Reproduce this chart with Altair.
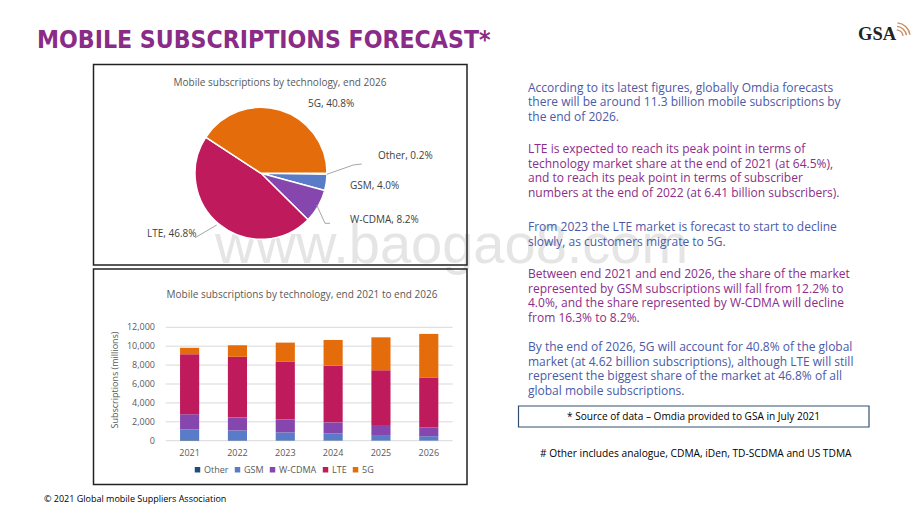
import math
import altair as alt
import pandas as pd

# ---------------- data ----------------
years = ["2021", "2022", "2023", "2024", "2025", "2026"]
techs = ["Other", "GSM", "W-CDMA", "LTE", "5G"]
other = [60, 50, 40, 35, 30, 23]
gsm = [1140, 1040, 840, 745, 570, 452]
wcdma = [1600, 1380, 1380, 1160, 1060, 927]
lte = [6350, 6410, 6110, 6000, 5790, 5290]
fiveg = [680, 1220, 2010, 2720, 3490, 4610]
pie_share = [0.2, 4.0, 8.2, 46.8, 40.8]
tick_values = [0, 2000, 4000, 6000, 8000, 10000, 12000]
tick_labels = ["0", "2,000", "4,000", "6,000", "8,000", "10,000", "12,000"]
colors = ["#1F4E79", "#5A7BC8", "#8547AD", "#BE1A5C", "#E46C0A"]

series = {"Other": other, "GSM": gsm, "W-CDMA": wcdma, "LTE": lte, "5G": fiveg}
rows = []
for ti, t in enumerate(techs):
    for yi, y in enumerate(years):
        rows.append({"year": y, "tech": t, "value": series[t][yi], "ord": ti})
bars_df = pd.DataFrame(rows)
pie_df = pd.DataFrame({"tech": techs, "share": pie_share, "ord": list(range(len(techs)))})
ticks_df = pd.DataFrame({"v": tick_values, "label": tick_labels})
years_df = pd.DataFrame({"year": years})

FONT = "Open Sans"
GREY = "#595959"
BLUE_TXT = "#4A5AA8"
PURPLE_TXT = "#8B2D8A"

xscale = alt.Scale(domain=years, range=[157.7, 444.7], paddingInner=0.6, paddingOuter=0.3)
yscale = alt.Scale(domain=[0, 12000], range=[432.7, 319.3], nice=False, zero=True)
cscale = alt.Scale(domain=techs, range=colors)
legend = alt.Legend(orient="none", legendX=185, legendY=457, direction="horizontal", columns=5,
                    title=None, symbolType="square", symbolSize=30, labelFontSize=9,
                    labelColor=GREY, labelFont=FONT, columnPadding=4, labelOffset=2, padding=0,
                    symbolStrokeWidth=0)

one = alt.Data(values=[{"a": 1}])


def text(x, y, lines, **kw):
    props = dict(align="left", baseline="alphabetic", font=FONT, fontSize=12, color="black")
    props.update(kw)
    return alt.Chart(one).mark_text(text=lines, **props).encode(x=alt.value(x), y=alt.value(y))


def box(x, y, x2, y2, stroke="#222222", sw=1.5):
    return alt.Chart(one).mark_rect(fill="transparent", stroke=stroke, strokeWidth=sw).encode(
        x=alt.value(x), y=alt.value(y), x2=alt.value(x2), y2=alt.value(y2))


layers = []

# watermark
layers.append(text(207, 255, "www.baogao8.com", font="Liberation Sans", fontSize=56,
                   color="#d0d0d0", opacity=0.55))

# main title
layers.append(text(29, 40, "MOBILE SUBSCRIPTIONS FORECAST*", font="DejaVu Sans Condensed",
                   fontSize=24.6, fontWeight="bold", color="#8A2B87"))
# logo
layers.append(text(850, 32, "GSA", font="Liberation Serif", fontSize=18.5, fontWeight="bold",
                   color="#222222"))
for r in [6.5, 10, 13.5]:
    layers.append(alt.Chart(one).mark_arc(radius=r, radius2=r + 1.4, theta=0.1, theta2=1.4,
                                          color="#C98B5E").encode(x=alt.value(888), y=alt.value(29)))

# panel boxes
layers.append(box(85.5, 56.5, 459, 257))
layers.append(box(85.5, 261, 459, 476.5))
layers.append(box(510.5, 398, 861, 419, stroke="#33506E", sw=1.2))

# pie chart
layers.append(text(272, 77.5, "Mobile subscriptions by technology, end 2026", align="center",
                   fontSize=10, color=GREY))
pie = alt.Chart(pie_df).mark_arc(radius=66, stroke="white", strokeWidth=1.5).encode(
    theta=alt.Theta("share:Q", stack=True,
                    scale=alt.Scale(range=[math.pi / 2, math.pi / 2 + 2 * math.pi])),
    color=alt.Color("tech:N", scale=cscale, legend=legend),
    order=alt.Order("ord:Q"),
    x=alt.value(253), y=alt.value(165.3),
)
layers.append(pie)
pie_lbl = dict(fontSize=10, color="#404040")
layers.append(text(300, 98.5, "5G, 40.8%", **pie_lbl))
layers.append(text(370, 151, "Other, 0.2%", **pie_lbl))
layers.append(text(342, 180.5, "GSM, 4.0%", **pie_lbl))
layers.append(text(342, 214.5, "W-CDMA, 8.2%", **pie_lbl))
layers.append(text(139, 228.5, "LTE, 46.8%", **pie_lbl))
lead = dict(color="#A6A6A6", strokeWidth=1)
for (a, b, c, d) in [(318.7, 166.3, 345.3, 157), (345.3, 157, 353.7, 156),
                     (308.7, 197, 317, 215.3), (317, 215.3, 322, 215.3),
                     (208.7, 217, 187, 229.7)]:
    layers.append(alt.Chart(one).mark_rule(**lead).encode(
        x=alt.value(a), y=alt.value(b), x2=alt.value(c), y2=alt.value(d)))

# bar chart
layers.append(text(294, 290, "Mobile subscriptions by technology, end 2021 to end 2026",
                   align="center", fontSize=10, color=GREY))
grid = alt.Chart(ticks_df).mark_rule(color="#D9D9D9", strokeWidth=1).encode(
    y=alt.Y("v:Q", scale=yscale, axis=None), x=alt.value(157.7), x2=alt.value(444.7))
layers.append(grid)
bars = alt.Chart(bars_df).mark_bar().encode(
    x=alt.X("year:N", scale=xscale, axis=None, sort=years),
    y=alt.Y("value:Q", stack="zero", scale=yscale, axis=None),
    color=alt.Color("tech:N", scale=cscale, legend=legend),
    order=alt.Order("ord:Q"),
)
layers.append(bars)
ylabels = alt.Chart(ticks_df).mark_text(align="right", baseline="middle", font=FONT, fontSize=9,
                                       color=GREY).encode(
    y=alt.Y("v:Q", scale=yscale, axis=None), x=alt.value(147), text="label:N")
layers.append(ylabels)
xlabels = alt.Chart(years_df).mark_text(align="center", baseline="middle", font=FONT, fontSize=9,
                                       color=GREY).encode(
    x=alt.X("year:N", scale=xscale, axis=None, sort=years), y=alt.value(445.3), text="year:N")
layers.append(xlabels)
layers.append(text(107, 372, "Subscriptions (millions)", align="center", baseline="middle",
                   angle=270, fontSize=9, color=GREY))

# right-hand text
LH = 14.6
layers.append(text(520, 83.5, ["According to its latest figures, globally Omdia forecasts",
                               "there will be around 11.3 billion mobile subscriptions by",
                               "the end of 2026."], color=BLUE_TXT, lineHeight=LH))
layers.append(text(520, 145, ["LTE is expected to reach its peak point in terms of",
                              "technology market share at the end of 2021 (at 64.5%),",
                              "and to reach its peak point in terms of subscriber",
                              "numbers at the end of 2022 (at 6.41 billion subscribers)."],
                   color=PURPLE_TXT, lineHeight=LH))
layers.append(text(520, 222.7, ["From 2023 the LTE market is forecast to start to decline",
                                "slowly, as customers migrate to 5G."], color=BLUE_TXT,
                   lineHeight=LH + 1))
layers.append(text(520, 270, ["Between end 2021 and end 2026, the share of the market",
                              "represented by GSM subscriptions will fall from 12.2% to",
                              "4.0%, and the share represented by W-CDMA will decline",
                              "from 16.3% to 8.2%."], color=PURPLE_TXT, lineHeight=LH))
layers.append(text(520, 343.3, ["By the end of 2026, 5G will account for 40.8% of the global",
                                "market (at 4.62 billion subscriptions), although LTE will still",
                                "represent the biggest share of the market at 46.8% of all",
                                "global mobile subscriptions."], color=BLUE_TXT, lineHeight=LH))
layers.append(text(685.5, 411.5, "* Source of data \u2013 Omdia provided to GSA in July 2021",
                   align="center", fontSize=10.1))
layers.append(text(532, 449, "# Other includes analogue, CDMA, iDen, TD-SCDMA and US TDMA",
                   fontSize=10.2))
layers.append(text(36, 494, "\u00a9 2021 Global mobile Suppliers Association", fontSize=9))

chart = alt.layer(*layers).properties(
    width=904, height=502, autosize=alt.AutoSizeParams(type="none"), padding=0,
    background="white",
).configure_view(stroke=None)

chart.save("out.html", embed_options={"renderer": "svg", "actions": False})
